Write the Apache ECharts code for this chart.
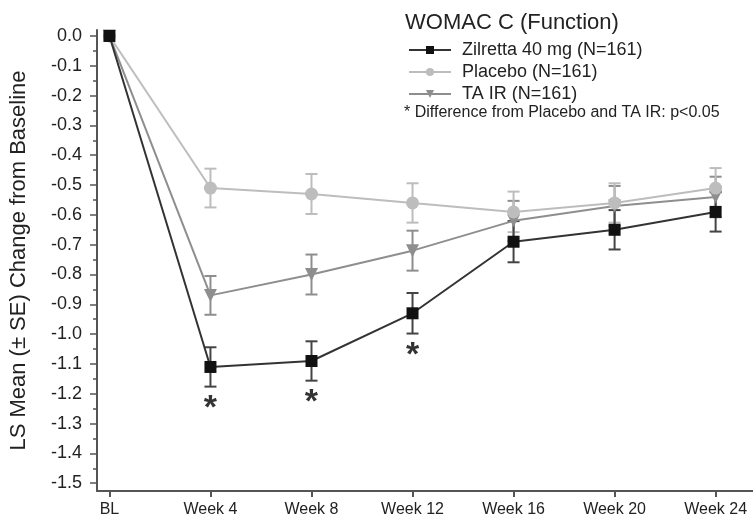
<!DOCTYPE html>
<html>
<head>
<meta charset="utf-8">
<script src="https://cdn.jsdelivr.net/npm/echarts@6/dist/echarts.min.js"></script>
<style>html,body{margin:0;padding:0;background:#fff;}#c{width:753px;height:523px;}</style>
</head>
<body>
<div id="c"></div>
<script>
const categories = ['BL', 'Week 4', 'Week 8', 'Week 12', 'Week 16', 'Week 20', 'Week 24'];
const zilretta = [0, -1.11, -1.09, -0.93, -0.69, -0.65, -0.59];
const zilrettaSE = [0, 0.066, 0.066, 0.068, 0.069, 0.066, 0.066];
const placebo = [0, -0.51, -0.53, -0.56, -0.59, -0.56, -0.51];
const placeboSE = [0, 0.065, 0.067, 0.066, 0.068, 0.066, 0.067];
const tair = [0, -0.87, -0.80, -0.72, -0.62, -0.57, -0.54];
const tairSE = [0, 0.065, 0.067, 0.067, 0.067, 0.067, 0.068];
const significant = [1, 2, 3]; // category indices with *
const yTicks = [0, -0.1, -0.2, -0.3, -0.4, -0.5, -0.6, -0.7, -0.8, -0.9, -1.0, -1.1, -1.2, -1.3, -1.4, -1.5];
const yMinorTicks = [-0.05, -0.15, -0.25, -0.35, -0.45, -0.55, -0.65, -0.75, -0.85, -0.95, -1.05, -1.15, -1.25, -1.35, -1.45];

const FONT = '"Liberation Sans", Arial, Helvetica, sans-serif';
const cZ = '#111111', cZline = '#333333';
const cP = '#bdbdbd';
const cT = '#8e8e8e';

function pts(arr) { return arr.map((v, i) => [i, v]); }
function errData(arr, se) {
  const out = [];
  arr.forEach((v, i) => { if (se[i] > 0) out.push([i, v - se[i], v + se[i]]); });
  return out;
}
function errSeries(name, arr, se, color, z) {
  return {
    type: 'custom', name: name + '_err', z: z, silent: true,
    xAxisIndex: 0, yAxisIndex: 0,
    data: errData(arr, se),
    renderItem: function (params, api) {
      const x = api.value(0);
      const lo = api.coord([x, api.value(1)]);
      const hi = api.coord([x, api.value(2)]);
      const w = 6;
      const st = { stroke: color, lineWidth: 2 };
      return {
        type: 'group', children: [
          { type: 'line', shape: { x1: lo[0], y1: lo[1], x2: hi[0], y2: hi[1] }, style: st },
          { type: 'line', shape: { x1: lo[0] - w, y1: lo[1], x2: lo[0] + w, y2: lo[1] }, style: st },
          { type: 'line', shape: { x1: hi[0] - w, y1: hi[1], x2: hi[0] + w, y2: hi[1] }, style: st }
        ]
      };
    }
  };
}

const yMin = -1.526, yMax = 0.02;
const xMin = -0.123, xMax = 6.37;

const chart = echarts.init(document.getElementById('c'), null, { renderer: 'canvas' });
chart.setOption({
  animation: false,
  backgroundColor: '#fff',
  textStyle: { fontFamily: FONT },
  title: [
    { text: 'WOMAC C (Function)', left: 400, top: 7, textStyle: { fontFamily: FONT, fontSize: 22, fontWeight: 'normal', color: '#222' } },
    { text: '* Difference from Placebo and TA IR: p<0.05', left: 399, top: 100, textStyle: { fontFamily: FONT, fontSize: 16, fontWeight: 'normal', color: '#222' } }
  ],
  legend: {
    orient: 'vertical', left: 403, top: 36, itemWidth: 42, itemHeight: 10, itemGap: 4,
    data: ['Zilretta 40 mg (N=161)', 'Placebo (N=161)', 'TA IR (N=161)'],
    textStyle: { fontFamily: FONT, fontSize: 18, color: '#222', padding: [0, 0, 0, 6] }
  },
  grid: { left: 96, right: 0, top: 30, bottom: 32, containLabel: false },
  xAxis: {
    type: 'value', min: xMin, max: xMax,
    splitLine: { show: false },
    axisLine: { show: true, onZero: false, lineStyle: { color: '#555', width: 2 } },
    axisTick: { show: true, length: 6, lineStyle: { color: '#555', width: 2 }, customValues: [0, 1, 2, 3, 4, 5, 6] },
    axisLabel: { customValues: [0, 1, 2, 3, 4, 5, 6], formatter: v => categories[Math.round(v)], fontSize: 16, color: '#222', margin: 11, fontFamily: FONT }
  },
  yAxis: [
    {
      type: 'value', min: yMin, max: yMax,
      name: 'LS Mean (± SE) Change from Baseline', nameLocation: 'middle', nameGap: 67,
      nameTextStyle: { fontSize: 22, color: '#222', fontFamily: FONT },
      splitLine: { show: false },
      axisLine: { show: true, onZero: false, lineStyle: { color: '#555', width: 2 } },
      axisTick: { show: true, length: 7, lineStyle: { color: '#555', width: 1.5 }, customValues: yTicks },
      axisLabel: { customValues: yTicks, formatter: v => v.toFixed(1), fontSize: 18, color: '#222', margin: 15, fontFamily: FONT }
    },
    {
      type: 'value', min: yMin, max: yMax, position: 'left',
      splitLine: { show: false },
      axisLine: { show: false, onZero: false },
      axisTick: { show: true, length: 4, lineStyle: { color: '#555', width: 1.5 }, customValues: yMinorTicks },
      axisLabel: { show: false }
    }
  ],
  series: [
    errSeries('TA IR (N=161)', tair, tairSE, cT, 2),
    errSeries('Placebo (N=161)', placebo, placeboSE, cP, 3),
    errSeries('Zilretta 40 mg (N=161)', zilretta, zilrettaSE, '#444', 4),
    {
      name: 'TA IR (N=161)', type: 'line', z: 5, data: pts(tair),
      symbol: 'triangle', symbolRotate: 180, symbolSize: 13,
      itemStyle: { color: cT }, lineStyle: { color: cT, width: 2 }
    },
    {
      name: 'Placebo (N=161)', type: 'line', z: 6, data: pts(placebo),
      symbol: 'circle', symbolSize: 13,
      itemStyle: { color: cP }, lineStyle: { color: cP, width: 2 }
    },
    {
      name: 'Zilretta 40 mg (N=161)', type: 'line', z: 7, data: pts(zilretta),
      symbol: 'rect', symbolSize: 12,
      itemStyle: { color: cZ }, lineStyle: { color: cZline, width: 2 }
    },
    {
      name: 'sig', type: 'scatter', z: 8, symbolSize: 0, silent: true,
      data: significant.map(i => [i, zilretta[i]]),
      label: { show: true, position: 'inside', formatter: '*', offset: [0, 42], fontSize: 34, fontWeight: 'bold', color: '#000', fontFamily: FONT }
    }
  ]
});
</script>
</body>
</html>
